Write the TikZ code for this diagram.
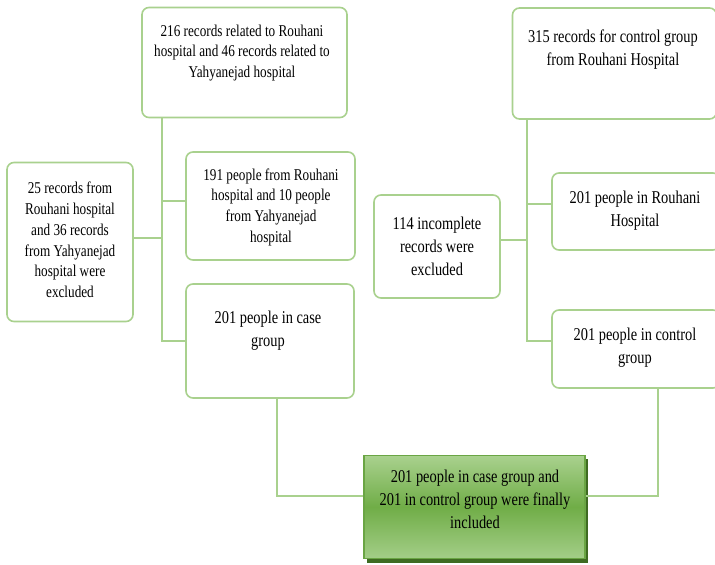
\documentclass[tikz,border=0pt]{standalone}
\usepackage{fontspec}
\setmainfont{Liberation Serif}[FakeStretch=0.8]
\usetikzlibrary{shadows}
\definecolor{boxline}{HTML}{A9D18E}
\definecolor{gtop}{HTML}{A9D18E}
\definecolor{gmid}{HTML}{70AD47}
\definecolor{gbot}{HTML}{A3CE88}
\definecolor{gborder}{HTML}{6AA544}
\definecolor{gshadow}{HTML}{3F6B22}
\tikzset{
  rbox/.style={draw=boxline, line width=1.6pt, rounded corners=7pt, fill=white},
  conn/.style={draw=boxline, line width=2pt},
  smalltxt/.style={align=center, inner sep=0pt, font=\fontsize{16.5}{20.7}\selectfont},
  bigtxt/.style={align=center, inner sep=0pt, font=\fontsize{18}{23}\selectfont},
}
\begin{document}
\begin{tikzpicture}[x=1pt, y=-1pt]
\clip (0,0) rectangle (715,565);
\fill[white] (0,0) rectangle (715,565);
% connectors (drawn first, under boxes)
\coordinate (ltop) at (162,117);
\coordinate (lbot) at (162,341);
\coordinate (lB) at (162,201);
\coordinate (lC) at (162,238);
\coordinate (rtop) at (527,119);
\coordinate (rbot) at (527,341);
\coordinate (rF) at (527,204);
\coordinate (rG) at (527,240);
\coordinate (dI) at (277,496);
\coordinate (hI) at (658,496);
% boxes
\node[rbox, minimum width=205pt, minimum height=110pt] (A) at (244.5,62.5) {};
\node[rbox, minimum width=169pt, minimum height=108pt] (B) at (270.5,206) {};
\node[rbox, minimum width=126pt, minimum height=159pt] (C) at (70,242) {};
\node[rbox, minimum width=168pt, minimum height=114pt] (D) at (270,341) {};
\node[rbox, minimum width=204pt, minimum height=111pt] (E) at (614.5,63.5) {};
\node[rbox, minimum width=168pt, minimum height=77pt] (F) at (636,211.5) {};
\node[rbox, minimum width=126pt, minimum height=103pt] (G) at (437,246.5) {};
\node[rbox, minimum width=168pt, minimum height=78pt] (H) at (636,349) {};
\fill[gshadow] (367,459) rectangle (588,563);
\node[draw=gborder, line width=1.2pt, minimum width=221pt, minimum height=103pt,
      top color=gtop, bottom color=gbot, middle color=gmid] (I) at (474.5,507) {};
% connector paths
\draw[conn] (A.south -| ltop) -- (lbot) -- (D.west |- lbot);
\draw[conn] (lB) -- (B.west |- lB);
\draw[conn] (C.east |- lC) -- (lC);
\draw[conn] (E.south -| rtop) -- (rbot) -- (H.west |- rbot);
\draw[conn] (rF) -- (F.west |- rF);
\draw[conn] (G.east |- rG) -- (rG);
\draw[conn] (D.south -| dI) -- (dI) -- (I.west |- dI);
\draw[conn] (H.south -| hI) -- (hI) -- (I.east |- hI);
% texts
\node[smalltxt] (tA) at (242,53) {216 records related to Rouhani\\hospital and 46 records related to\\Yahyanejad hospital};
\node[smalltxt] (tB) at (271,207) {191 people from Rouhani\\hospital and 10 people\\from Yahyanejad\\hospital};
\node[smalltxt] (tC) at (70,240) {25 records from\\Rouhani hospital\\and 36 records\\from Yahyanejad\\hospital were\\excluded};
\node[bigtxt] (tD) at (268,331) {201 people in case\\group};
\node[bigtxt] (tE) at (613,50) {315 records for control group\\from Rouhani Hospital};
\node[bigtxt] (tF) at (635,210.5) {201 people in Rouhani\\Hospital};
\node[bigtxt] (tG) at (437,246) {114 incomplete\\records were\\excluded};
\node[bigtxt] (tH) at (635,347.5) {201 people in control\\group};
\node[bigtxt] (tI) at (475,499) {201 people in case group and\\201 in control group were finally\\included};
\end{tikzpicture}
\end{document}
